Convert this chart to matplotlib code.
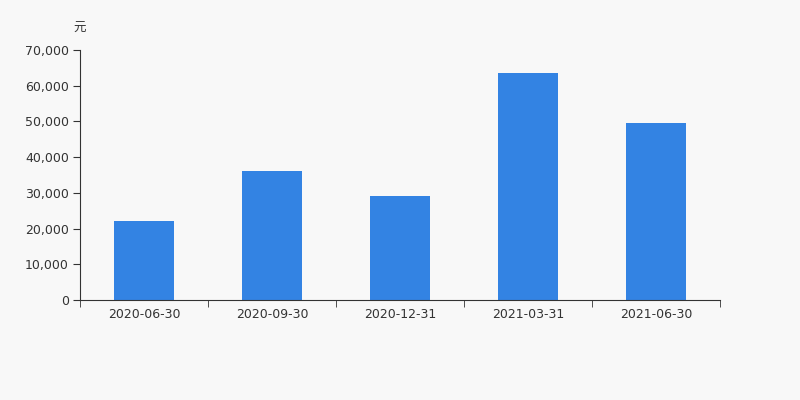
import matplotlib.pyplot as plt
from matplotlib.ticker import FuncFormatter

plt.rcParams['font.family'] = ['DejaVu Sans', 'Noto Sans CJK SC']

categories = ['2020-06-30', '2020-09-30', '2020-12-31', '2021-03-31', '2021-06-30']
values = [22100, 36100, 29000, 63700, 49500]
yticks = [0, 10000, 20000, 30000, 40000, 50000, 60000, 70000]

fig = plt.figure(figsize=(8, 4), dpi=100, facecolor='#f8f8f8')
ax = fig.add_axes([0.1, 0.25, 0.8, 0.625])
ax.set_facecolor('#f8f8f8')

x = range(len(categories))
ax.bar(x, values, width=0.47, color='#3383e3')

ax.set_xlim(-0.5, len(categories) - 0.5)
ax.set_ylim(0, 70000)
ax.set_yticks(yticks)
ax.yaxis.set_major_formatter(FuncFormatter(lambda v, p: f'{int(v):,}'))
ax.set_xticks(x)
ax.set_xticklabels(categories)
ax.set_xticks([i - 0.5 for i in range(len(categories) + 1)], minor=True)
ax.tick_params(axis='x', which='major', length=0, pad=6, labelsize=9, colors='#333333')
ax.tick_params(axis='x', which='minor', length=5, color='#333333')
ax.tick_params(axis='y', length=5, labelsize=9, colors='#333333', pad=3)

for s in ['top', 'right']:
    ax.spines[s].set_visible(False)
for s in ['left', 'bottom']:
    ax.spines[s].set_color('#333333')

fig.text(0.1, 0.93, '元', ha='center', va='center', fontsize=9, color='#333333',
         family=['Noto Sans CJK SC', 'DejaVu Sans'])

plt.savefig('out.png', facecolor=fig.get_facecolor())
